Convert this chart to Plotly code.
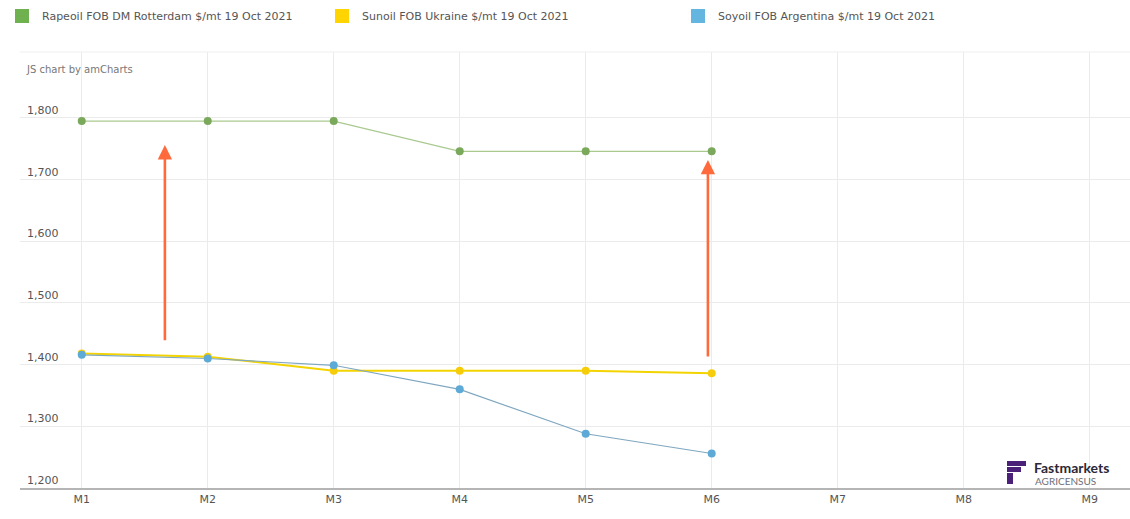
import plotly.graph_objects as go

# ---- data ----
months = ["M1", "M2", "M3", "M4", "M5", "M6", "M7", "M8", "M9"]
rapeoil = [1795, 1795, 1795, 1746, 1746, 1746]
sunoil = [1418, 1413, 1390, 1390, 1390, 1386]
soyoil = [1416, 1410, 1399, 1360, 1288, 1256]
series_names = [
    "Rapeoil FOB DM Rotterdam $/mt 19 Oct 2021",
    "Sunoil FOB Ukraine $/mt 19 Oct 2021",
    "Soyoil FOB Argentina $/mt 19 Oct 2021",
]
y_ticks = [1200, 1300, 1400, 1500, 1600, 1700, 1800]

W, H = 1130, 519
ML, MR, MT, MB = 20, 0, 52, 31
PW, PH = W - ML - MR, H - MT - MB

def px(xp):
    return (xp - ML) / PW

def py(yp):
    return (H - MB - yp) / PH

FONT = "Verdana, DejaVu Sans, sans-serif"
TXT = "#555555"

line_cols = ["#a9c98f", "#f3d400", "#7fa7c0"]
mark_cols = ["#7aa95c", "#f6cd0b", "#5eaad6"]
legend_cols = ["#6fb04f", "#ffd400", "#64b5e0"]

fig = go.Figure()
for vals, name, lc, mc, lw in zip([rapeoil, sunoil, soyoil], series_names, line_cols, mark_cols, [1.2, 2, 1.2]):
    fig.add_trace(go.Scatter(
        x=months[:len(vals)], y=vals, mode="lines+markers", name=name,
        line=dict(color=lc, width=lw),
        marker=dict(color=mc, size=8),
        showlegend=False,
    ))

legend_keys = ["legend", "legend2", "legend3"]
legend_x = [px(2), px(322), px(678)]
for name, col, lk in zip(series_names, legend_cols, legend_keys):
    fig.add_trace(go.Scatter(
        x=[None], y=[None], mode="markers", name=name,
        marker=dict(symbol="square", size=14, color=col),
        showlegend=True, legend=lk,
    ))

leg_common = dict(orientation="h", yanchor="middle", y=py(16), xanchor="left",
                  font=dict(family=FONT, size=11, color=TXT),
                  bgcolor="rgba(0,0,0,0)")
fig.update_layout(
    legend=dict(x=legend_x[0], **leg_common),
    legend2=dict(x=legend_x[1], **leg_common),
    legend3=dict(x=legend_x[2], **leg_common),
)

fig.update_xaxes(
    type="category", categoryorder="array", categoryarray=months,
    tickvals=months, ticktext=months,
    range=[-0.49, 8.32],
    showgrid=True, gridcolor="#ebebeb", gridwidth=1,
    showline=True, linecolor="#b5b5b5", linewidth=2,
    ticks="", tickfont=dict(family=FONT, size=11, color=TXT),
    zeroline=False, fixedrange=True,
)
fig.update_yaxes(
    range=[1200, 1907],
    tickvals=y_ticks, ticktext=[f"{v:,}" for v in y_ticks],
    ticklabelposition="inside top",
    ticklabelstandoff=4,
    showgrid=True, gridcolor="#ebebeb", gridwidth=1,
    showline=False, ticks="",
    tickfont=dict(family=FONT, size=11, color=TXT),
    zeroline=False, fixedrange=True,
)

# top border line of plot area
fig.add_shape(type="line", xref="paper", yref="paper", x0=0, x1=1, y0=1, y1=1,
              line=dict(color="#efefef", width=1))

# orange arrows
arrow_col = "#ff6a3c"
fig.add_annotation(x=0.66, y=1756, ax=0.66, ay=1437, xref="x", yref="y", axref="x", ayref="y",
                   showarrow=True, arrowhead=2, arrowsize=1.1, arrowwidth=2.6, arrowcolor=arrow_col, text="")
fig.add_annotation(x=4.97, y=1732, ax=4.97, ay=1411, xref="x", yref="y", axref="x", ayref="y",
                   showarrow=True, arrowhead=2, arrowsize=1.1, arrowwidth=2.6, arrowcolor=arrow_col, text="")

# credit
fig.add_annotation(x=px(24), y=py(70), xref="paper", yref="paper", xanchor="left", yanchor="middle",
                   text="JS chart by amCharts", showarrow=False,
                   font=dict(family=FONT, size=10, color="#777777"))

# logo
purple = "#4b2079"
for x0, x1, y0, y1 in [(1007, 1026, 461, 466), (1007, 1021, 467, 472), (1007, 1013, 473, 484)]:
    fig.add_shape(type="rect", xref="paper", yref="paper",
                  x0=px(x0), x1=px(x1), y0=py(y1), y1=py(y0),
                  fillcolor=purple, line=dict(width=0))
fig.add_annotation(x=px(1032), y=py(467), xref="paper", yref="paper", xanchor="left", yanchor="middle",
                   text="<b>Fastmarkets</b>", showarrow=False,
                   font=dict(family="Lato, DejaVu Sans, sans-serif", size=14, color="#2b2838"))
fig.add_annotation(x=px(1033), y=py(481), xref="paper", yref="paper", xanchor="left", yanchor="middle",
                   text="AGRICENSUS", showarrow=False,
                   font=dict(family="Lato, DejaVu Sans, sans-serif", size=10, color="#6e6e78"))

fig.update_layout(
    width=W, height=H,
    margin=dict(l=ML, r=MR, t=MT, b=MB, autoexpand=False),
    paper_bgcolor="white", plot_bgcolor="white",
    font=dict(family=FONT, color=TXT),
)

fig.write_html("out.html", config={"displayModeBar": False},
               post_script="document.body.style.margin='0';document.body.style.overflow='hidden';")
